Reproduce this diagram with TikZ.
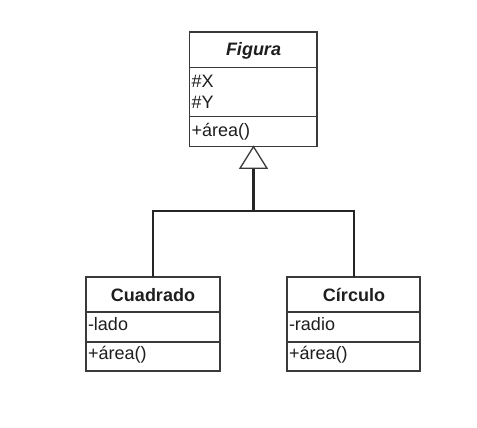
\documentclass[tikz,border=0pt]{standalone}
\usepackage{fontspec}
\setmainfont{Liberation Sans}
\begin{document}
\begin{tikzpicture}[x=1pt,y=-1pt,
  box/.style={draw=boxc, line width=1.1pt, inner sep=0pt, outer sep=0pt, anchor=north west},
  lbl/.style={inner sep=0pt, outer sep=0pt, text=txtc, font=\fontsize{18}{20}\selectfont},
  wire/.style={draw=wirec, line width=2.8pt},
  inh/.style={draw=boxc, line width=1.3pt, fill=white}]
\definecolor{boxc}{HTML}{3A3A3A}
\definecolor{txtc}{HTML}{1E1E1E}
\definecolor{wirec}{HTML}{252525}
\useasboundingbox[fill=white] (0,0) rectangle (477,428);
% Figura
\node[box, minimum width=127.5pt, minimum height=35.7pt] (figN) at (189.5,32) {};
\node[box, minimum width=127.5pt, minimum height=49pt] (figA) at (189.5,67.7) {};
\node[box, minimum width=127.5pt, minimum height=30pt] (figO) at (189.5,116.7) {};
\node[lbl, anchor=base, font=\fontsize{18}{20}\selectfont\bfseries\itshape] (figT) at (253.5,55.7) {Figura};
\node[lbl, anchor=base west] (figX) at (191.5,88) {\#X};
\node[lbl, anchor=base west] (figY) at (191.5,108) {\#Y};
\node[lbl, anchor=base west] (figM) at (191.5,136) {+área()};
% Cuadrado
\node[box, minimum width=134pt, minimum height=35pt] (cuaN) at (86,277) {};
\node[box, minimum width=134pt, minimum height=30pt] (cuaA) at (86,312) {};
\node[box, minimum width=134pt, minimum height=29pt] (cuaO) at (86,342) {};
\node[lbl, anchor=base, font=\fontsize{18}{20}\selectfont\bfseries] (cuaT) at (153,301) {Cuadrado};
\node[lbl, anchor=base west] (cuaL) at (88,330) {-lado};
\node[lbl, anchor=base west] (cuaM) at (88,359) {+área()};
% Circulo
\node[box, minimum width=133pt, minimum height=35pt] (cirN) at (287,277) {};
\node[box, minimum width=133pt, minimum height=30pt] (cirA) at (287,312) {};
\node[box, minimum width=133pt, minimum height=29pt] (cirO) at (287,342) {};
\node[lbl, anchor=base, font=\fontsize{18}{20}\selectfont\bfseries] (cirT) at (354,301) {Círculo};
\node[lbl, anchor=base west] (cirR) at (289,330) {-radio};
\node[lbl, anchor=base west] (cirM) at (289,359) {+área()};
% connectors
\coordinate (triB) at (253.5,168.3);
\coordinate (junc) at (253.5,211);
\draw[wire] (triB) -- (junc);
\draw[wire] (cuaN.north -| 153,0) |- (junc) -| (cirN.north -| 354,0);
\draw[inh] (figO.south -| 253.5,0) -- (240,168.3) -- (267,168.3) -- cycle;
\end{tikzpicture}
\end{document}
